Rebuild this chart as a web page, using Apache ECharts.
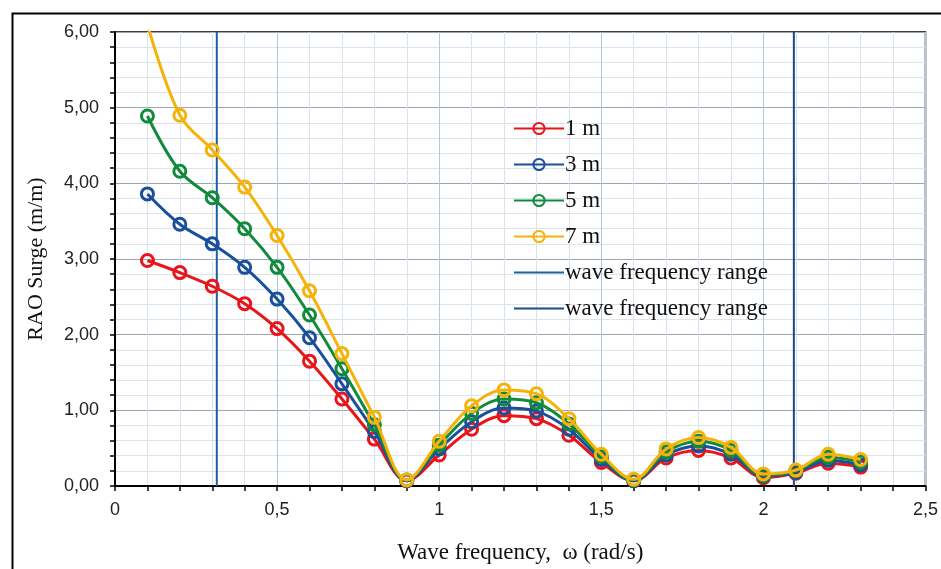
<!DOCTYPE html>
<html>
<head>
<meta charset="utf-8">
<script src="https://cdn.jsdelivr.net/npm/echarts@6/dist/echarts.min.js"></script>
<style>
html,body{margin:0;padding:0;background:#fff;}
#chart{width:941px;height:569px;}
</style>
</head>
<body>
<div id="chart"></div>
<script>
// Wave frequency (rad/s)
var freqs = [0.1,0.2,0.3,0.4,0.5,0.6,0.7,0.8,0.9,1.0,1.1,1.2,1.3,1.4,1.5,1.6,1.7,1.8,1.9,2.0,2.1,2.2,2.3];
// RAO surge (m/m) per wave height
var rao1m = [2.98,2.82,2.64,2.41,2.08,1.65,1.15,0.62,0.07,0.41,0.75,0.93,0.89,0.67,0.31,0.07,0.37,0.47,0.37,0.11,0.17,0.30,0.25];
var rao3m = [3.86,3.46,3.20,2.89,2.47,1.96,1.35,0.72,0.07,0.49,0.85,1.03,0.99,0.75,0.35,0.07,0.41,0.53,0.42,0.13,0.18,0.34,0.28];
var rao5m = [4.89,4.16,3.81,3.40,2.89,2.26,1.55,0.81,0.08,0.54,0.96,1.15,1.10,0.82,0.39,0.08,0.45,0.59,0.47,0.14,0.20,0.38,0.32];
var rao7m = [6.10,4.90,4.44,3.95,3.31,2.58,1.75,0.91,0.08,0.59,1.06,1.27,1.22,0.89,0.42,0.09,0.49,0.64,0.51,0.16,0.21,0.42,0.35];
// wave frequency range limits (rad/s)
var rangeLow = 0.314;
var rangeHigh = 2.094;
var yMin = 0, yMax = 6;
var seriesNames = ['1 m','3 m','5 m','7 m'];
var seriesColors = ['#e8151b','#1a4f9c','#128a3c','#f5b30a'];
var seriesValues = [rao1m, rao3m, rao5m, rao7m];
var rangeName = 'wave frequency range';

function pairs(xs, ys){ return xs.map(function(x,i){ return [x, ys[i]]; }); }

var chart = echarts.init(document.getElementById('chart'), null, {renderer:'canvas'});
var serif = '"Liberation Serif","Times New Roman",serif';
var sans = '"Liberation Sans Narrow","Liberation Sans",Arial,sans-serif';

var series = seriesValues.map(function(vals, i){
  return {
    name: seriesNames[i],
    type: 'line',
    data: pairs(freqs, vals),
    smooth: 0.35,
    clip: true,
    symbol: 'circle',
    symbolSize: 12,
    lineStyle: {color: seriesColors[i], width: 3},
    itemStyle: {color: 'rgba(255,255,255,0)', borderColor: seriesColors[i], borderWidth: 3},
    z: 3 + i
  };
});
series.push({
  name: rangeName,
  type: 'line',
  data: [[rangeLow, yMin],[rangeLow, yMax]],
  symbol: 'none',
  lineStyle: {color: '#1f5f9e', width: 2},
  itemStyle: {color: '#1f5f9e'},
  z: 2
});
series.push({
  name: rangeName + ' ',
  type: 'line',
  data: [[rangeHigh, yMin],[rangeHigh, yMax]],
  symbol: 'none',
  lineStyle: {color: '#1a4a8c', width: 2},
  itemStyle: {color: '#1a4a8c'},
  z: 2
});

var legendData = seriesNames.map(function(n){ return {name: n}; });
legendData.push({name: rangeName, itemStyle: {opacity: 0}});
legendData.push({name: rangeName + ' ', itemStyle: {opacity: 0}});

chart.setOption({
  animation: false,
  backgroundColor: '#fff',
  graphic: [{
    type: 'rect',
    left: 10, top: 11,
    shape: {width: 1000, height: 700},
    style: {fill: 'none', stroke: '#000', lineWidth: 2},
    silent: true,
    z: 0
  }],
  grid: {left: 115, right: 11, top: 32, bottom: 83, show: true, borderColor: '#000', borderWidth: 1.5, backgroundColor: 'transparent'},
  legend: {
    orient: 'vertical',
    left: 508, top: 112,
    itemWidth: 50, itemHeight: 14,
    itemGap: 13,
    textStyle: {fontFamily: serif, fontSize: 23, color: '#111', lineHeight: 22, padding: [0,0,0,-4]},
    formatter: function(n){ return n.replace(/\s+$/,''); },
    data: legendData
  },
  xAxis: {
    type: 'value', min: 0, max: 2.5, interval: 0.5,
    name: 'Wave frequency,  \u03c9 (rad/s)',
    nameLocation: 'middle', nameGap: 55,
    nameTextStyle: {fontFamily: serif, fontSize: 23, color: '#111'},
    axisLine: {show: true, onZero: false, lineStyle: {color: '#000', width: 2}},
    axisTick: {show: true, length: 5, lineStyle: {color: '#000', width: 1.5}},
    minorTick: {show: true, splitNumber: 5, length: 5, lineStyle: {color: '#000', width: 1.5}},
    axisLabel: {margin: 15, fontFamily: sans, fontSize: 18, color: '#222',
      formatter: function(v){ return String(v).replace('.', ','); }},
    splitLine: {show: true, lineStyle: {color: '#b4c6dc', width: 1}},
    minorSplitLine: {show: true, lineStyle: {color: '#d8e3ef', width: 1}}
  },
  yAxis: {
    type: 'value', min: yMin, max: yMax, interval: 1,
    name: 'RAO Surge (m/m)',
    nameLocation: 'middle', nameGap: 68,
    nameTextStyle: {fontFamily: serif, fontSize: 22, color: '#111'},
    axisLine: {show: true, lineStyle: {color: '#000', width: 2}},
    axisTick: {show: true, length: 5, lineStyle: {color: '#000', width: 1.5}},
    minorTick: {show: true, splitNumber: 5, length: 5, lineStyle: {color: '#000', width: 1.5}},
    axisLabel: {margin: 16, fontFamily: sans, fontSize: 18, color: '#222',
      formatter: function(v){ return v.toFixed(2).replace('.', ','); }},
    splitLine: {show: true, lineStyle: {color: '#9aa6b2', width: 1.2}},
    minorSplitLine: {show: true, lineStyle: {color: '#dce4ec', width: 1}}
  },
  series: series
});
</script>
</body>
</html>
